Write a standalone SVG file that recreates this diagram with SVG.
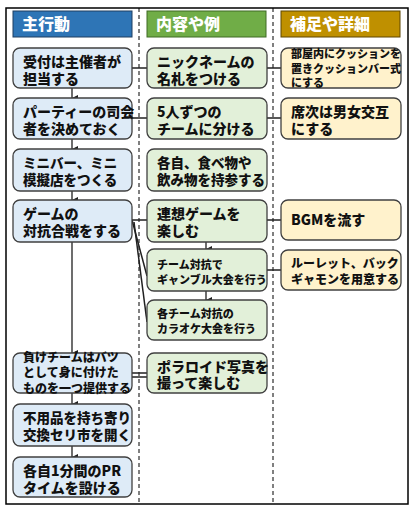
<svg xmlns="http://www.w3.org/2000/svg" width="415" height="514" viewBox="0 0 415 514">
<defs>
<marker id="ar" viewBox="0 0 6 6" refX="3" refY="6" markerWidth="6" markerHeight="6" markerUnits="userSpaceOnUse" orient="auto-start-reverse">
<path d="M0,0 L6,0 L3,6 Z" fill="#202020"/>
</marker>
<style>
text{font-family:"Noto Sans CJK JP","Noto Sans",sans-serif;font-weight:900;fill:#111}
.h{fill:#fff;font-size:16px}
.b{stroke:#404040;stroke-width:1.3}
.l{fill:#DEEBF7}
.m{fill:#E2F0D9}
.r{fill:#FFF2CC}
.c{stroke:#202020;stroke-width:1.5;fill:none}
.a{stroke:#202020;stroke-width:1.3;fill:none;marker-end:url(#ar)}
.f14{font-size:14px}
.f13{font-size:13.5px}
.f12{font-size:12px}
.f11{font-size:11px}
</style>
</defs>
<rect width="415" height="514" fill="#fff"/>
<rect x="6" y="8" width="402" height="496" fill="none" stroke="#000" stroke-width="1.5"/>
<line x1="139" y1="8" x2="139" y2="504" stroke="#000" stroke-width="1" stroke-dasharray="4,3"/>
<line x1="273" y1="8" x2="273" y2="504" stroke="#000" stroke-width="1" stroke-dasharray="4,3"/>

<g id="header1"><rect x="13" y="11" width="119" height="26" fill="#2E75B6" stroke="#1F3F60" stroke-width="1"/><text class="h" x="22" y="30">主行動</text></g>
<g id="header2"><rect x="147" y="11" width="119" height="26" fill="#70AD47" stroke="#3E6A25" stroke-width="1"/><text class="h" x="156" y="30">内容や例</text></g>
<g id="header3"><rect x="281" y="11" width="119" height="26" fill="#BF9000" stroke="#5E4700" stroke-width="1"/><text class="h" x="290" y="30">補足や詳細</text></g>

<g id="connectors">
<line class="c" x1="132" y1="68" x2="147" y2="68"/>
<line class="c" x1="267" y1="68" x2="281" y2="68"/>
<line class="c" x1="132" y1="118" x2="147" y2="118"/>
<line class="c" x1="267" y1="118" x2="281" y2="118"/>
<line class="c" x1="132" y1="220" x2="147" y2="220"/>
<line class="c" x1="267" y1="220" x2="281" y2="220"/>
<line class="c" x1="267" y1="270" x2="281" y2="270"/>
<line class="c" x1="132" y1="220" x2="147" y2="276"/>
<line class="c" x1="134" y1="222" x2="147" y2="322"/>
<line class="c" x1="132" y1="373" x2="147" y2="373"/>
<line class="c" x1="132" y1="377" x2="147" y2="377"/>
<line class="a" x1="72" y1="88" x2="72" y2="98"/>
<line class="a" x1="72" y1="139" x2="72" y2="149"/>
<line class="a" x1="72" y1="191" x2="72" y2="200"/>
<line class="a" x1="72" y1="242" x2="72" y2="353"/>
<line class="a" x1="72" y1="393" x2="72" y2="404"/>
<line class="a" x1="72" y1="446" x2="72" y2="457"/>
<line class="a" x1="206" y1="242" x2="206" y2="249"/>
<line class="a" x1="206" y1="291" x2="206" y2="300"/>
</g>

<g id="n1"><rect class="b l" x="13" y="48" width="119" height="40" rx="7"/><text class="f14" x="23" y="67">受付は主催者が<tspan x="23" dy="17">担当する</tspan></text></g>
<g id="n2"><rect class="b l" x="13" y="98" width="119" height="41" rx="7"/><text class="f14" x="23" y="117">パーティーの司会<tspan x="23" dy="17">者を決めておく</tspan></text></g>
<g id="n3"><rect class="b l" x="13" y="149" width="119" height="42" rx="7"/><text class="f13" x="23" y="168">ミニバー、ミニ<tspan x="23" dy="17">模擬店をつくる</tspan></text></g>
<g id="n4"><rect class="b l" x="13" y="200" width="119" height="42" rx="7"/><text class="f14" x="23" y="219">ゲームの<tspan x="23" dy="17">対抗合戦をする</tspan></text></g>
<g id="n5"><rect class="b l" x="13" y="353" width="119" height="40" rx="7"/><text class="f12" x="23" y="362">負けチームはバツ<tspan x="23" dy="15">として身に付けた</tspan><tspan x="23" dy="16">ものを一つ提供する</tspan></text></g>
<g id="n6"><rect class="b l" x="13" y="404" width="119" height="42" rx="7"/><text class="f13" x="23" y="423">不用品を持ち寄り<tspan x="23" dy="17">交換セリ市を開く</tspan></text></g>
<g id="n7"><rect class="b l" x="13" y="457" width="119" height="40" rx="7"/><text class="f14" x="23" y="476">各自1分間のPR<tspan x="23" dy="17">タイムを設ける</tspan></text></g>

<g id="m1"><rect class="b m" x="147" y="48" width="120" height="40" rx="7"/><text class="f14" x="157" y="67">ニックネームの<tspan x="157" dy="17">名札をつける</tspan></text></g>
<g id="m2"><rect class="b m" x="147" y="98" width="120" height="41" rx="7"/><text class="f14" x="157" y="117">5人ずつの<tspan x="157" dy="17">チームに分ける</tspan></text></g>
<g id="m3"><rect class="b m" x="147" y="149" width="120" height="42" rx="7"/><text class="f13" x="157" y="168">各自、食べ物や<tspan x="157" dy="17">飲み物を持参する</tspan></text></g>
<g id="m4"><rect class="b m" x="147" y="200" width="120" height="42" rx="7"/><text class="f14" x="157" y="219">連想ゲームを<tspan x="157" dy="17">楽しむ</tspan></text></g>
<g id="m5"><rect class="b m" x="147" y="249" width="120" height="42" rx="7"/><text class="f11" x="157" y="269">チーム対抗で<tspan x="157" dy="15">ギャンブル大会を行う</tspan></text></g>
<g id="m6"><rect class="b m" x="147" y="300" width="120" height="40" rx="7"/><text class="f11" x="157" y="318">各チーム対抗の<tspan x="157" dy="15">カラオケ大会を行う</tspan></text></g>
<g id="m7"><rect class="b m" x="147" y="353" width="120" height="40" rx="7"/><text class="f14" x="157" y="372">ポラロイド写真を<tspan x="157" dy="16">撮って楽しむ</tspan></text></g>

<g id="r1"><rect class="b r" x="281" y="48" width="120" height="40" rx="7"/><text class="f11" x="291" y="58">部屋内にクッションを<tspan x="291" dy="15">置きクッションバー式</tspan><tspan x="291" dy="14">にする</tspan></text></g>
<g id="r2"><rect class="b r" x="281" y="98" width="120" height="41" rx="7"/><text class="f14" x="291" y="117">席次は男女交互<tspan x="291" dy="17">にする</tspan></text></g>
<g id="r3"><rect class="b r" x="281" y="200" width="120" height="40" rx="7"/><text class="f14" x="291" y="225">BGMを流す</text></g>
<g id="r4"><rect class="b r" x="281" y="250" width="120" height="40" rx="7"/><text class="f12" x="291" y="268">ルーレット、バック<tspan x="291" dy="16">ギャモンを用意する</tspan></text></g>
</svg>
